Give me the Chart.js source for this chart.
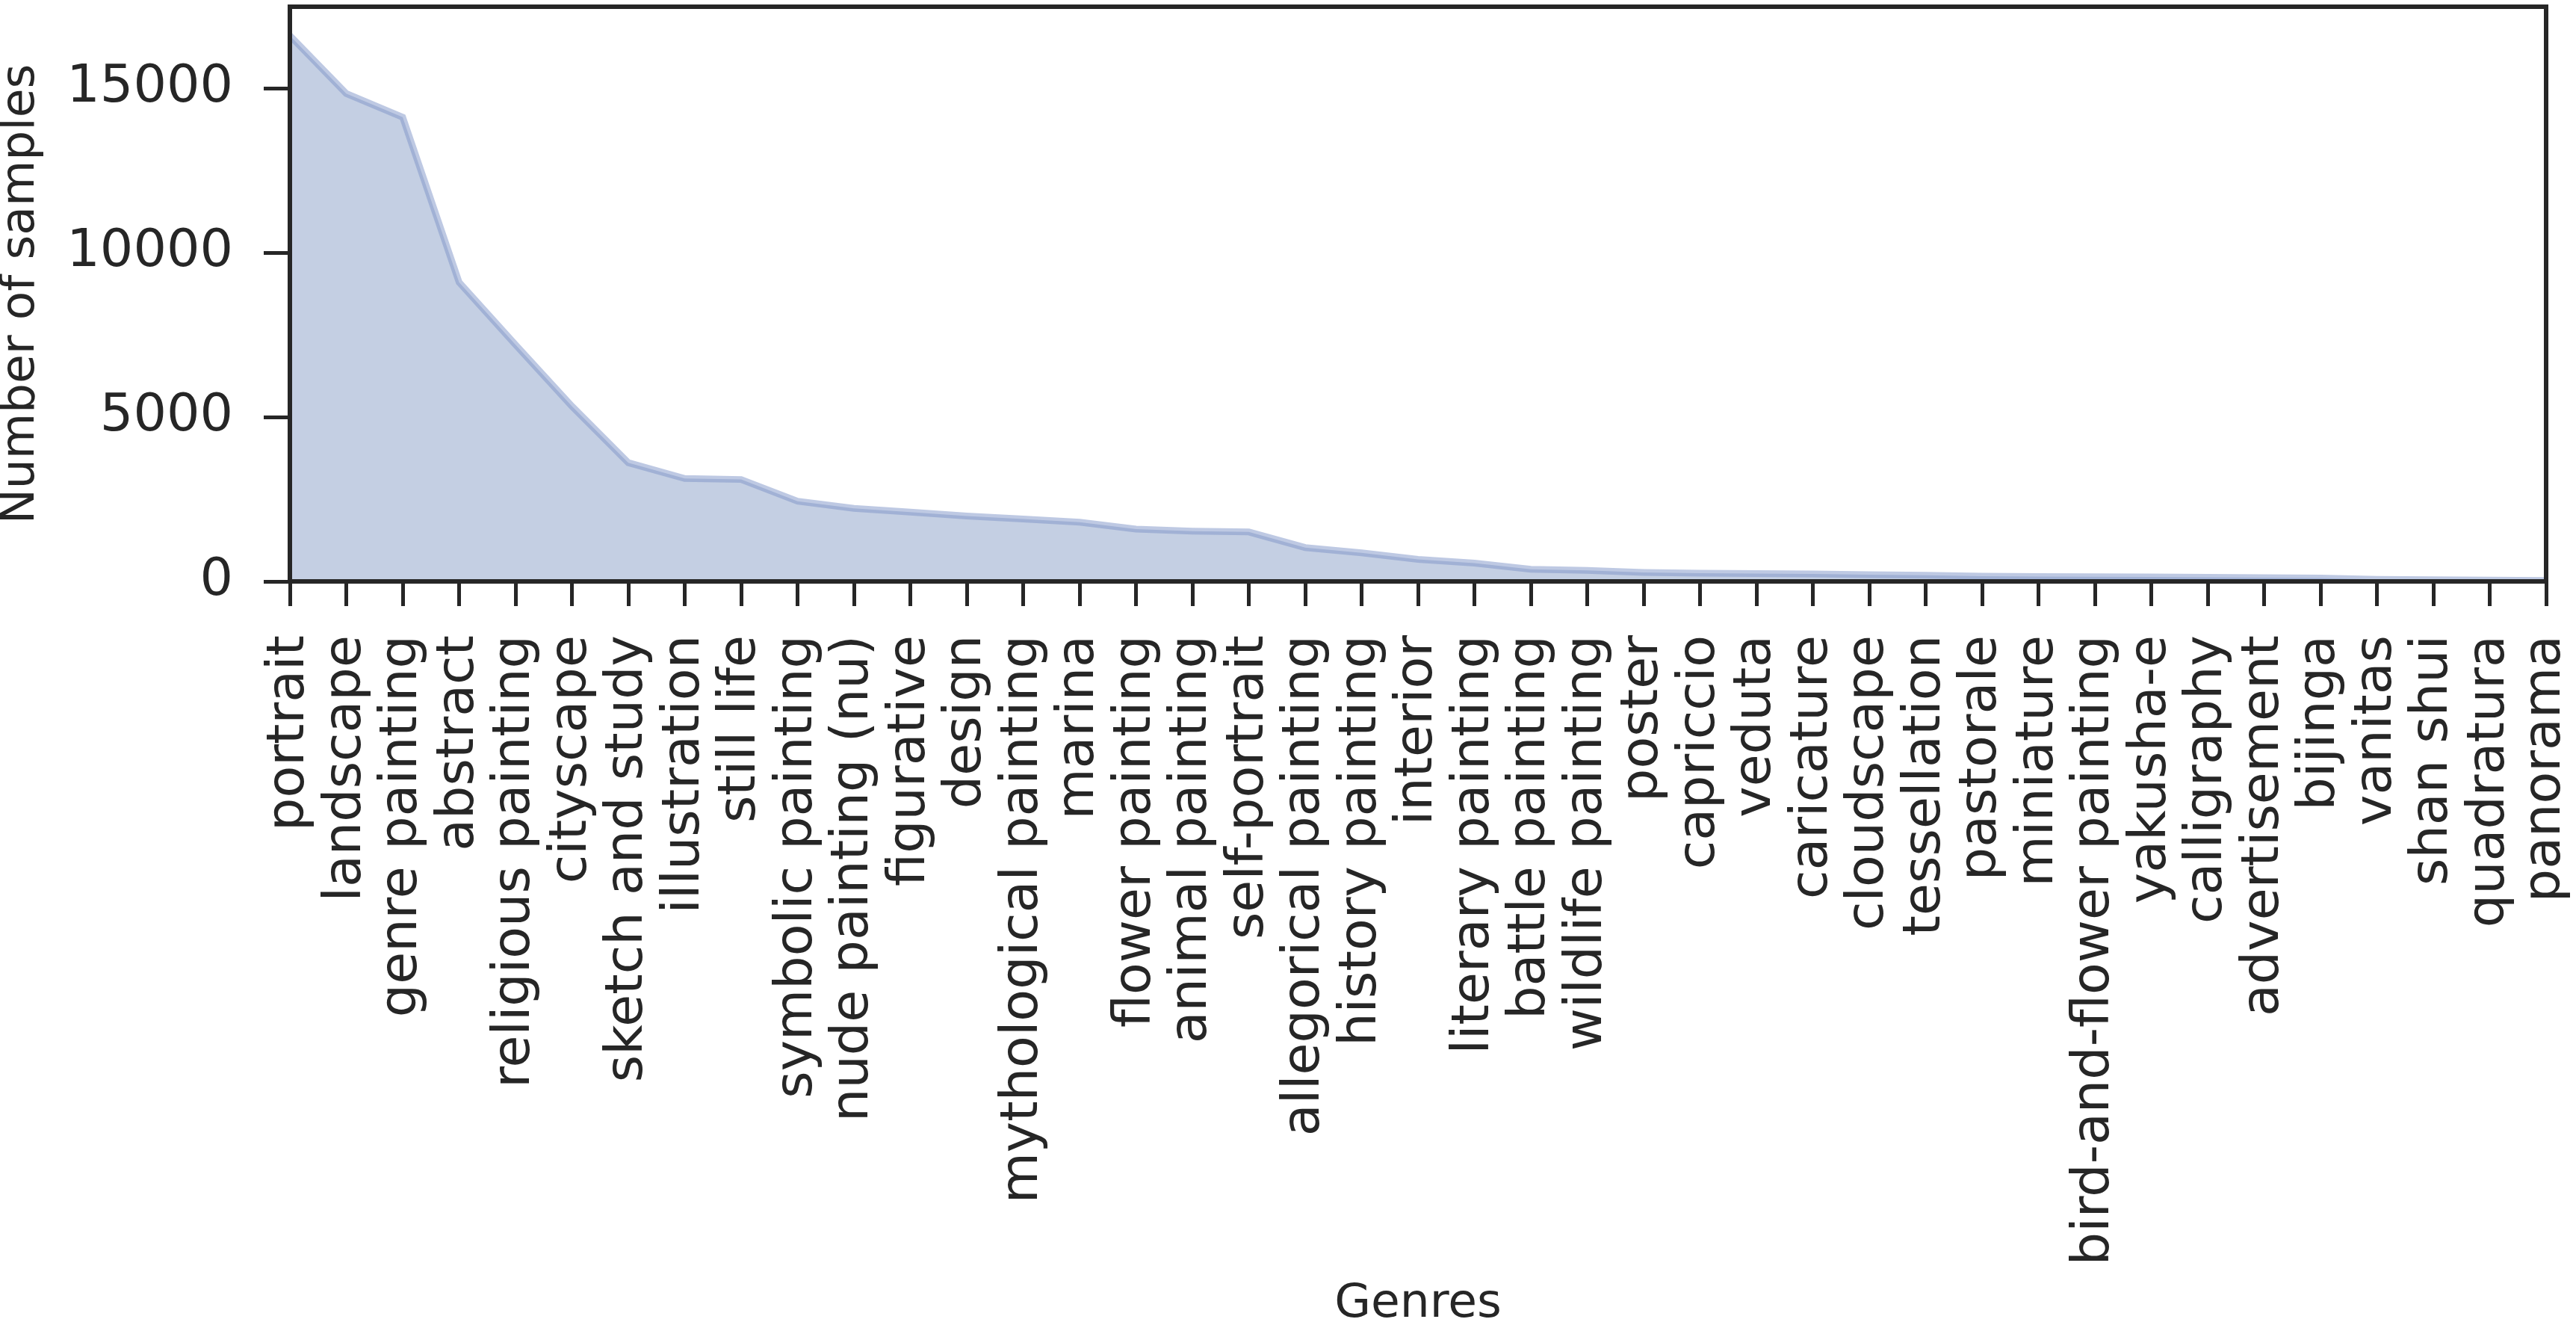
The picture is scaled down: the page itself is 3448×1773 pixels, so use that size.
<!DOCTYPE html>
<html><head><meta charset="utf-8">
<script src="https://cdn.jsdelivr.net/npm/chart.js@4"></script>
<style>html,body{margin:0;padding:0;background:#fff}#wrap{width:3448px;height:1773px}</style>
</head><body><div id="wrap"><canvas id="c" width="3448" height="1773"></canvas></div>
<script>
const genres = ["portrait","landscape","genre painting","abstract","religious painting","cityscape","sketch and study","illustration","still life","symbolic painting","nude painting (nu)","figurative","design","mythological painting","marina","flower painting","animal painting","self-portrait","allegorical painting","history painting","interior","literary painting","battle painting","wildlife painting","poster","capriccio","veduta","caricature","cloudscape","tessellation","pastorale","miniature","bird-and-flower painting","yakusha-e","calligraphy","advertisement","bijinga","vanitas","shan shui","quadratura","panorama"];
const samples = [16600,14840,14120,9100,7200,5330,3610,3130,3100,2440,2220,2110,1990,1900,1800,1590,1530,1505,1030,870,670,555,370,335,275,250,240,225,205,185,160,150,140,135,125,115,100,65,50,40,30];
const yTicks = [0,5000,10000,15000];
const yMax = 17480;
const xTitle = "Genres";
const yTitle = "Number of samples";

const INK = '#262626';
const FONT = 'DejaVu Sans';

const frame = {
  id: 'frame',
  afterDraw(chart) {
    const {ctx, chartArea: a} = chart;
    ctx.save();
    ctx.strokeStyle = INK;
    ctx.lineWidth = 6;
    ctx.strokeRect(a.left, a.top, a.right - a.left, a.bottom - a.top);
    ctx.restore();
  }
};

new Chart(document.getElementById('c'), {
  type: 'line',
  data: {
    labels: genres,
    datasets: [{
      data: samples,
      fill: 'origin',
      backgroundColor: '#c4cfe3',
      borderColor: 'rgba(125,148,200,0.5)',
      borderWidth: 9,
      pointRadius: 0,
      tension: 0
    }]
  },
  options: {
    responsive: false,
    devicePixelRatio: 1,
    animation: false,
    layout: { padding: { left: 0, right: 40, top: 9, bottom: 0 } },
    plugins: { legend: { display: false }, tooltip: { enabled: false } },
    scales: {
      x: {
        type: 'category',
        offset: false,
        grid: { display: true, drawOnChartArea: false, drawTicks: true, tickLength: 33, tickWidth: 5, tickColor: INK, lineWidth: 5, color: INK },
        border: { display: true, color: INK, width: 6 },
        ticks: { autoSkip: false, minRotation: 90, maxRotation: 90, padding: 39, color: INK, font: { family: FONT, size: 70, lineHeight: 1.0 } },
        title: { display: true, text: xTitle, color: INK, font: { family: FONT, size: 63, lineHeight: 0.86 }, padding: 0 },
        afterFit(scale) { scale.height = 1773 - 778; scale.paddingLeft = 0; scale.paddingRight = 0; }
      },
      y: {
        min: 0,
        max: yMax,
        grid: { display: true, drawOnChartArea: false, drawTicks: true, tickLength: 35, tickWidth: 5, tickColor: INK, lineWidth: 5, color: INK },
        border: { display: true, color: INK, width: 6 },
        ticks: { padding: 41, color: INK, font: { family: FONT, size: 70, lineHeight: 1.0 }, callback: v => String(v) },
        afterBuildTicks(scale) { scale.ticks = yTicks.map(v => ({ value: v })); },
        title: { display: true, text: yTitle, color: INK, font: { family: FONT, size: 63, lineHeight: 0.92 }, padding: 0 },
        afterFit(scale) { scale.width = 388; scale.paddingTop = 0; scale.paddingBottom = 0; }
      }
    }
  },
  plugins: [frame]
});
</script>
</body></html>
